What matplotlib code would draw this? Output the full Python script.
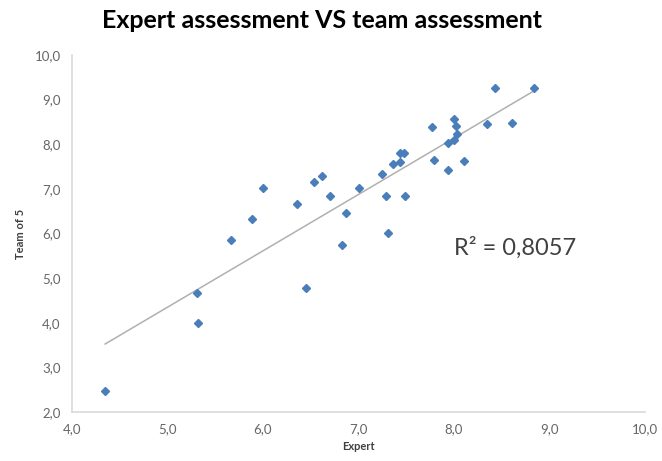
import matplotlib.pyplot as plt
import numpy as np
from matplotlib.ticker import FuncFormatter

plt.rcParams['font.family'] = ['Lato', 'DejaVu Sans']

expert = [4.35, 5.31, 5.32, 5.67, 5.89, 6.00, 6.36, 6.45, 6.54, 6.62,
          6.70, 6.83, 6.87, 7.01, 7.25, 7.29, 7.31, 7.36, 7.44, 7.44,
          7.48, 7.49, 7.77, 7.79, 7.94, 7.94, 8.00, 8.00, 8.02, 8.03,
          8.11, 8.35, 8.43, 8.61, 8.84]
team = [2.48, 4.67, 4.00, 5.85, 6.32, 7.01, 6.65, 4.77, 7.15, 7.28,
        6.85, 5.74, 6.46, 7.01, 7.33, 6.85, 6.00, 7.56, 7.61, 7.80,
        7.81, 6.85, 8.38, 7.65, 7.43, 8.02, 8.09, 8.56, 8.42, 8.23,
        7.63, 8.45, 9.25, 8.48, 9.25]
r2_label = 'R² = 0,8057'

fig = plt.figure(figsize=(6.62, 4.61), dpi=100)
ax = fig.add_axes([0.1083, 0.1063, 0.866, 0.7744])

x = np.array(expert)
y = np.array(team)
k, b = np.polyfit(x, y, 1)
xs = np.array([x.min(), x.max()])
ax.plot(xs, k * xs + b, color='#b0b0b0', linewidth=1.1, zorder=2)
ax.plot(x, y, linestyle='none', marker='D', markersize=4.2,
        color='#4a7ebb', zorder=3)

ax.set_xlim(4, 10)
ax.set_ylim(2, 10)
ax.set_xticks(np.arange(4, 10.01, 1))
ax.set_yticks(np.arange(2, 10.01, 1))
fmt = FuncFormatter(lambda v, p: ('%.1f' % v).replace('.', ','))
ax.xaxis.set_major_formatter(fmt)
ax.yaxis.set_major_formatter(fmt)
ax.tick_params(length=0, labelsize=9.5, colors='#666666', pad=8)

for s in ['top', 'right']:
    ax.spines[s].set_visible(False)
for s in ['left', 'bottom']:
    ax.spines[s].set_color('#d9d9d9')
    ax.spines[s].set_linewidth(1.2)

ax.text(8.0, 5.69, r2_label, fontsize=17, color='#404040', va='center')

fig.text(0.487, 0.955, 'Expert assessment VS team assessment',
         ha='center', va='center', fontsize=18, fontweight='bold')
ax.set_xlabel('Expert', fontsize=8, fontweight='bold', color='#404040', labelpad=4)
ax.set_ylabel('Team of 5', fontsize=8, fontweight='bold', color='#404040', labelpad=6)

plt.savefig('out.png')
